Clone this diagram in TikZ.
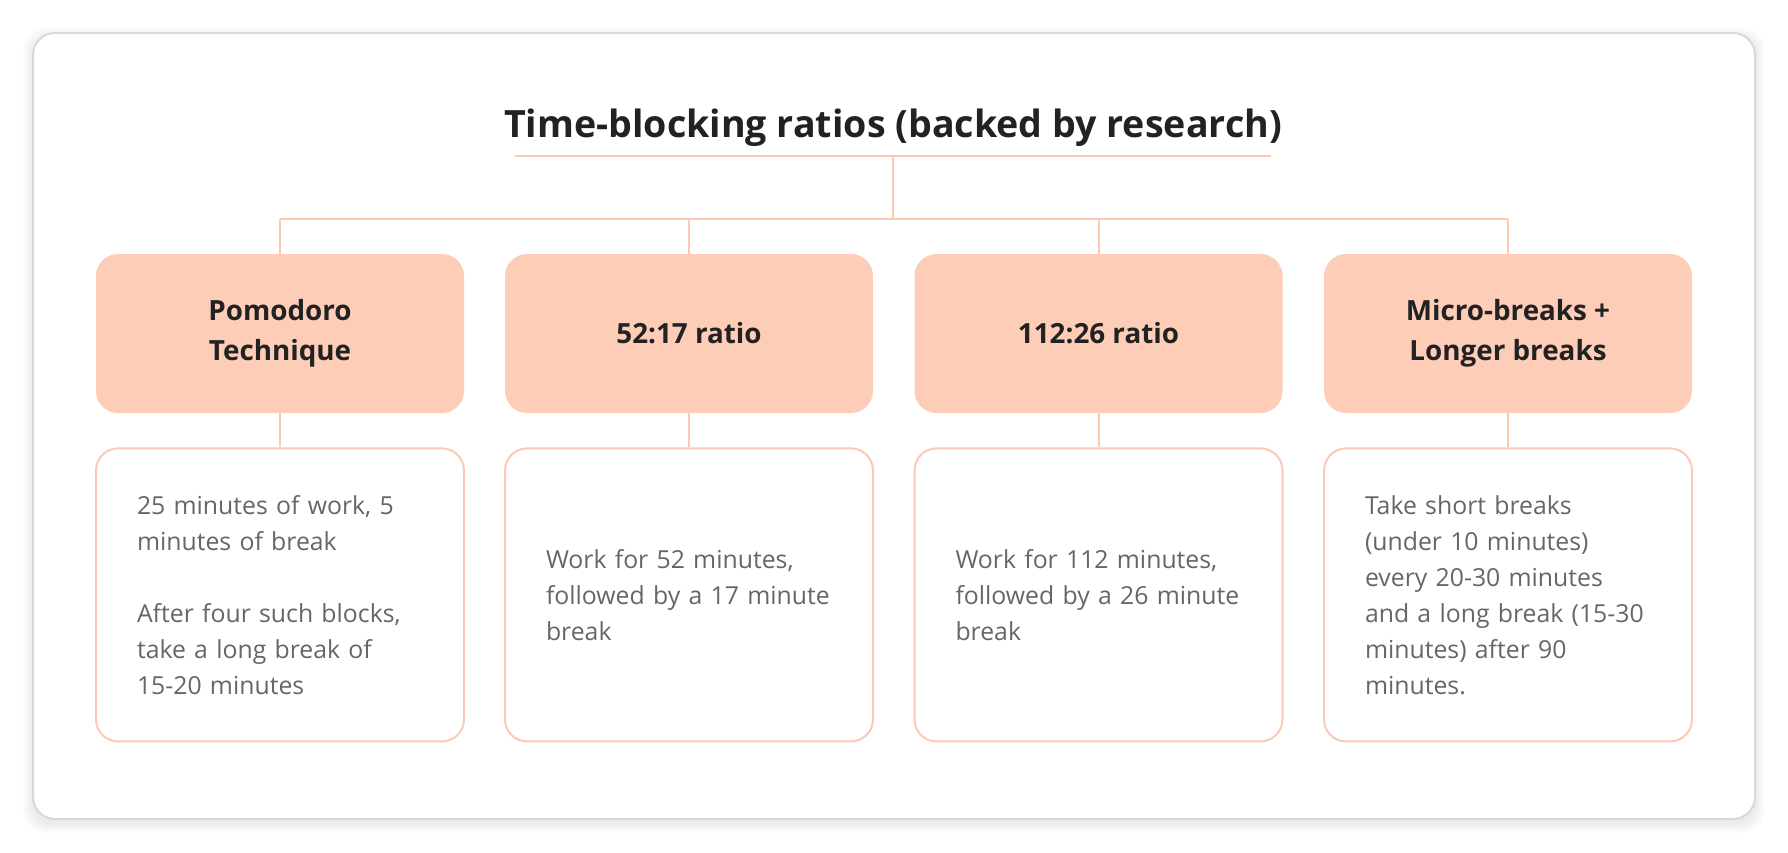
\documentclass[tikz,border=0pt]{standalone}
\usepackage{fontspec}
\setmainfont{Open Sans}
\usetikzlibrary{positioning}
\definecolor{peach}{HTML}{FDCDB8}
\definecolor{peachline}{HTML}{FCCAB3}
\definecolor{bodytext}{HTML}{666666}
\definecolor{headtext}{HTML}{222222}
\definecolor{framegray}{HTML}{D8D8D8}
\tikzset{
  headbox/.style={fill=peach, rounded corners=11pt, minimum width=184pt, minimum height=79.5pt,
    inner sep=0pt, align=center, text=headtext, font=\bfseries\fontsize{13.9}{20}\selectfont},
  bodybox/.style={draw=peachline, line width=1pt, fill=white, rounded corners=11pt,
    minimum width=184pt, minimum height=146.5pt, inner sep=0pt, text width=143pt,
    align=left, text=bodytext, font=\fontsize{12.4}{18}\selectfont},
  link/.style={draw=peachline, line width=1pt}
}
\begin{document}
\begin{tikzpicture}[x=0.5pt,y=-0.5pt]
	\useasboundingbox (0,0) rectangle (1788,852);
	\fill[white] (0,0) rectangle (1788,852);
	% soft shadow round the card
	\foreach \s in {1,...,10}
	  \fill[black,opacity=0.006,rounded corners=11pt] (33-\s,33-\s+4) rectangle (1755+\s,819+\s+4);
	\draw[framegray, line width=1pt, fill=white, rounded corners=11pt] (33,33) rectangle (1755,819);

	\node[anchor=base, text=headtext, font=\bfseries\fontsize{18.8}{23}\selectfont] (title) at (893,137) {Time-blocking ratios (backed by research)};
	\coordinate (ulL) at (515,156);
	\coordinate (ulR) at (1271,156);
	\coordinate (hub) at (893,156);
	\coordinate (bus) at (893,219);

	\node[headbox] (head1) at (280,333.5) {Pomodoro\\Technique};
	\node[headbox] (head2) at (689,333.5) {52:17 ratio};
	\node[headbox] (head3) at (1098.5,333.5) {112:26 ratio};
	\node[headbox] (head4) at (1508,333.5) {Micro-breaks +\\Longer breaks};

	\node[bodybox, below=17pt of head1] (body1) {25 minutes of work, 5\\minutes of break\\[18pt]After four such blocks,\\take a long break of\\15-20 minutes};
	\node[bodybox, below=17pt of head2] (body2) {Work for 52 minutes,\\followed by a 17 minute\\break};
	\node[bodybox, below=17pt of head3] (body3) {Work for 112 minutes,\\followed by a 26 minute\\break};
	\node[bodybox, below=17pt of head4] (body4) {Take short breaks\\(under 10 minutes)\\every 20-30 minutes\\and a long break (15-30\\minutes) after 90\\minutes.};

	\draw[link] (ulL) -- (ulR);
	\draw[link] (hub) -- (bus);
	\draw[link] (head1 |- bus) -- (head4 |- bus);
	\foreach \i in {1,...,4} {
	  \draw[link] (head\i |- bus) -- (head\i.north);
	  \draw[link] (head\i) -- (body\i);
	}
\end{tikzpicture}
\end{document}
